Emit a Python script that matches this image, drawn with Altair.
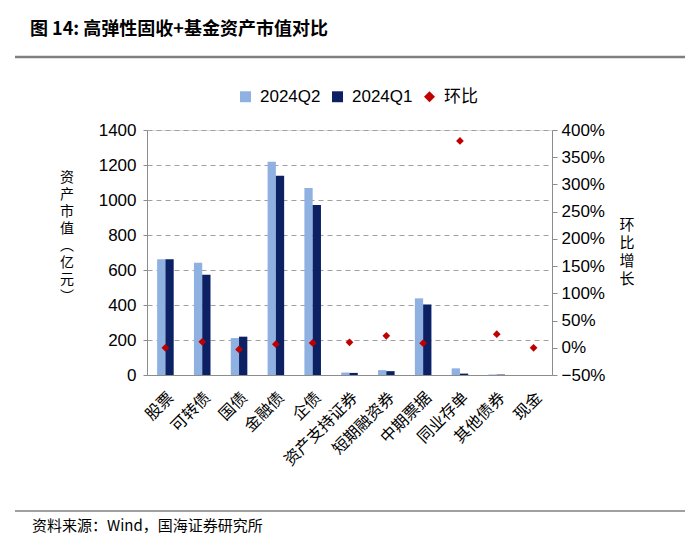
import altair as alt
import pandas as pd

categories = ["股票", "可转债", "国债", "金融债", "企债", "资产支持证券",
              "短期融资券", "中期票据", "同业存单", "其他债券", "现金"]
q2 = [661, 642, 211, 1219, 1069, 14, 28, 438, 38, 3, 0]
q1 = [661, 573, 219, 1139, 971, 12, 22, 403, 8, 2.5, 0]
ratio = [0.0, 0.11, -0.03, 0.065, 0.09, 0.10, 0.22, 0.085, 3.80, 0.25, 0.0]

series_names = ["2024Q2", "2024Q1", "环比"]
colors = ["#8FB1E1", "#0B2163", "#C00000"]
left_ticks = [0, 200, 400, 600, 800, 1000, 1200, 1400]
right_ticks = [-0.5, 0.0, 0.5, 1.0, 1.5, 2.0, 2.5, 3.0, 3.5, 4.0]

title_text = ["图 14:  高弹性固收+基金资产市值对比"]
source_text = ["资料来源：Wind，国海证券研究所"]
left_title_chars = ["资", "产", "市", "值", "︵", "亿", "元", "︶"]
right_title_chars = ["环", "比", "增", "长"]

n = len(categories)
bars_df = pd.DataFrame({
    "category": categories * 2,
    "series": ["2024Q2"] * n + ["2024Q1"] * n,
    "value": q2 + q1,
})
ratio_df = pd.DataFrame({"category": categories, "series": ["环比"] * n, "ratio": ratio})

FONT = "Liberation Sans, Noto Sans CJK SC"
CJK = "Noto Sans CJK SC"
GRAY = "#8C8C8C"

x_enc = alt.X(
    "category:N", sort=categories,
    scale=alt.Scale(paddingInner=0.55, paddingOuter=0.275),
    axis=alt.Axis(title=None, labelAngle=-45, labelFont=CJK, labelFontSize=16,
                  labelColor="#000", domainColor=GRAY, ticks=False, labelPadding=14),
)

legend = alt.Legend(
    title=None, orient="none", direction="horizontal", legendX=90, legendY=-42,
    labelFont=FONT, labelFontSize=17, labelColor="#000", symbolSize=120,
    labelOffset=6, columnPadding=8, symbolStrokeWidth=0, padding=0,
)
color_enc = alt.Color("series:N", scale=alt.Scale(domain=series_names, range=colors), legend=legend)
shape_enc = alt.Shape("series:N", scale=alt.Scale(domain=series_names, range=["square", "square", "diamond"]), legend=legend)

bars = alt.Chart(bars_df).mark_bar().encode(
    x=x_enc,
    xOffset=alt.XOffset("series:N", sort=["2024Q2", "2024Q1"],
                        scale=alt.Scale(domain=["2024Q2", "2024Q1"], paddingInner=0, paddingOuter=0)),
    y=alt.Y("value:Q", scale=alt.Scale(domain=[0, 1400], nice=False),
            axis=alt.Axis(values=left_ticks, format="d", title=None, grid=True, gridDash=[5, 4],
                          gridColor="#A0A0A0", domainColor=GRAY, tickColor=GRAY, tickSize=4,
                          labelFont=FONT, labelFontSize=17, labelColor="#000", labelPadding=7)),
    color=color_enc,
    shape=shape_enc,
)

points = alt.Chart(ratio_df).mark_point(filled=True, size=60, opacity=1).encode(
    x=x_enc,
    y=alt.Y("ratio:Q", scale=alt.Scale(domain=[-0.5, 4.0], nice=False),
            axis=alt.Axis(orient="right", values=right_ticks, format=".0%", title=None, grid=False,
                          domainColor=GRAY, tickColor=GRAY, tickSize=5,
                          labelFont=FONT, labelFontSize=17, labelColor="#000", labelPadding=4)),
    color=color_enc,
    shape=shape_enc,
)

def text_layer(texts, x, y, size, bold=False, align="left", font=CJK):
    props = dict(align=align, baseline="middle", font=font, fontSize=size, color="#000",
                 fontWeight="bold" if bold else "normal")
    return alt.Chart(pd.DataFrame({"t": texts})).mark_text(**props).encode(
        text="t:N", x=alt.value(x), y=alt.value(y))

def stacked_text(chars, x, y0, size, step):
    return [text_layer([c], x, y0 + i * step, size, align="center", font="Liberation Sans, " + CJK)
            for i, c in enumerate(chars)]

title_layer = text_layer(title_text, -117, -100, 18, bold=True)
source_layer = text_layer(source_text, -115, 396, 15)
left_title_layers = stacked_text(left_title_chars, -80, 48, 14, 17)
right_title_layers = stacked_text(right_title_chars, 480, 95, 15, 18)

rule_df = pd.DataFrame({"k": ["top"]})
top_rule = alt.Chart(rule_df).mark_rule(color="#808080", strokeWidth=2.5).encode(
    x=alt.value(-132), x2=alt.value(538), y=alt.value(-73))
bottom_rule = alt.Chart(rule_df).mark_rule(color="#808080", strokeWidth=1.5).encode(
    x=alt.value(-132), x2=alt.value(538), y=alt.value(381))

chart = alt.layer(
    bars, points, title_layer, source_layer, *left_title_layers, *right_title_layers,
    top_rule, bottom_rule
).resolve_scale(y="independent").properties(
    width=405, height=245,
    autosize=alt.AutoSizeParams(type="none"),
    padding={"left": 139, "top": 122, "right": 140, "bottom": 160},
).configure_view(stroke=None).configure(background="white")

chart.save("out.html", embed_options={"renderer": "svg", "actions": False})
